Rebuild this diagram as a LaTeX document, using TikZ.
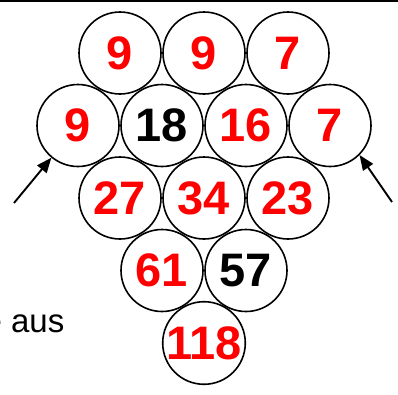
\documentclass[tikz,border=0pt]{standalone}
\usepackage{fontspec}
\setmainfont{Liberation Sans}
\usetikzlibrary{arrows.meta}
\begin{document}
\begin{tikzpicture}[x=1pt, y=-1pt, >={Triangle[length=15pt,width=12pt]}, line join=round,
		ball/.style={circle, draw, line width=1.6pt, minimum size=82pt, inner sep=0pt,
			font=\fontsize{47}{47}\selectfont\bfseries, text=red},
		given/.style={text=black}]
			\def\xmax{398};\def\ymax{394};
			\useasboundingbox (0,0) rectangle (\xmax,\ymax);
			\clip (0,0) rectangle (\xmax,\ymax);
			\draw[line width=2.4pt] (0,1.2)--(\xmax,1.2);
			% top row
			\node[ball] (a1) at (120,53) {9};
			\node[ball] (a2) at (204,53) {9};
			\node[ball] (a3) at (288,53) {7};
			% second row
			\node[ball] (b1) at (78,125.5) {9};
			\node[ball,given] (b2) at (162,125.5) {18};
			\node[ball] (b3) at (246,125.5) {16};
			\node[ball] (b4) at (330,125.5) {7};
			% third row
			\node[ball] (c1) at (120,198) {27};
			\node[ball] (c2) at (204,198) {34};
			\node[ball] (c3) at (288,198) {23};
			% fourth row
			\node[ball] (d1) at (162,270.5) {61};
			\node[ball,given] (d2) at (246,270.5) {57};
			% bottom
			\node[ball] (e1) at (204,343) {118};
			% arrows
			\coordinate (la) at (14,203);
			\coordinate (ra) at (392,202);
			\draw[->, line width=1.9pt] (la)--(b1);
			\draw[->, line width=1.9pt] (ra)--(b4.south east);
			\node[anchor=base east, inner sep=0pt, font=\fontsize{33}{33}\selectfont] (aus) at (64.5,332) {e aus};
	\end{tikzpicture}
\end{document}
